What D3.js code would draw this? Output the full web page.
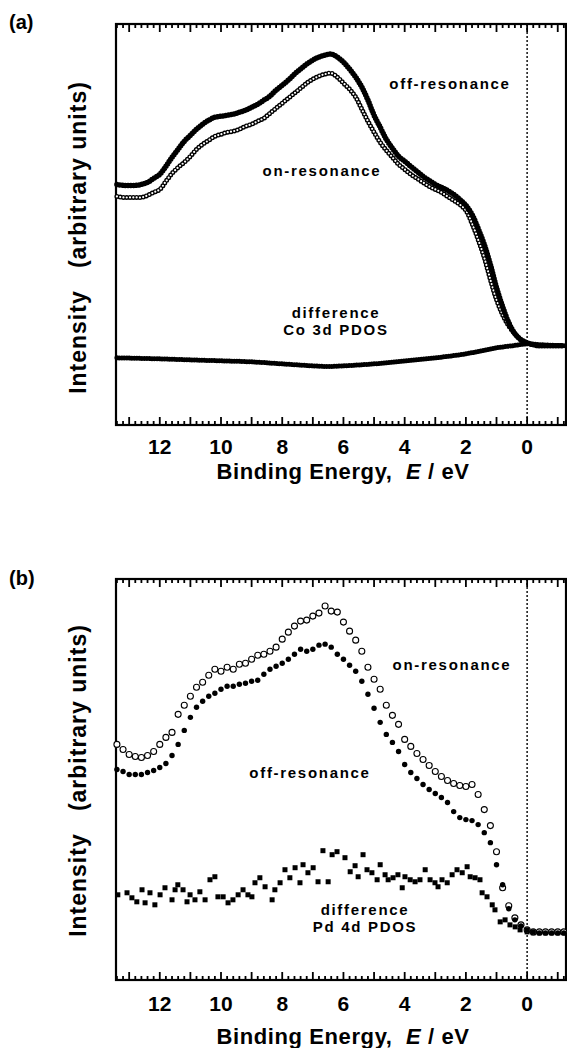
<!DOCTYPE html>
<html>
<head>
<meta charset="utf-8">
<script src="https://cdn.jsdelivr.net/npm/d3@7"></script>
<style>
  body { margin: 0; background: #fff; }
  svg { display: block; font-family: "Liberation Sans", Arial, Helvetica, sans-serif; font-weight: bold; }
  .pre { white-space: pre; }
</style>
</head>
<body>
<svg id="chart" width="567" height="1048"></svg>
<script>
// binding energy grid (eV) shared by the on/off resonance spectra
const energy = [13.4, 13.2, 13.0, 12.8, 12.6, 12.4, 12.2, 12.0, 11.8, 11.6, 11.4, 11.2, 11.0, 10.8, 10.6, 10.4, 10.2,
  10.0, 9.8, 9.6, 9.4, 9.2, 9.0, 8.8, 8.6, 8.4, 8.2, 8.0, 7.8, 7.6, 7.4, 7.2, 7.0, 6.8, 6.6, 6.4, 6.2,
  6.0, 5.8, 5.6, 5.4, 5.2, 5.0, 4.8, 4.6, 4.4, 4.2, 4.0, 3.8, 3.6, 3.4, 3.2, 3.0, 2.8, 2.6, 2.4, 2.2,
  2.0, 1.8, 1.6, 1.4, 1.2, 1.0, 0.8, 0.6, 0.4, 0.2, 0.0, -0.2, -0.4, -0.6, -0.8, -1.0, -1.2];

// (a) Co
const offResA = [60, 59.75, 59.75, 59.75, 60, 60.5, 61.5, 62.5,
  64.5, 66.75, 68.75, 70.75, 72.25, 73.75, 75, 76, 76.75,
  77, 77.25, 77.5, 78, 78.5, 79.25, 80, 81, 82, 83.5,
  84.75, 86, 87.5, 88.75, 90, 91, 91.75, 92.25, 92.5, 91.75,
  90.5, 88.75, 86.75, 84.25, 81, 77.25, 74.25, 71.25, 69, 67,
  65.75, 64.5, 63.25, 62, 61, 60, 59.25, 58.5, 57.5, 56.25,
  54.75, 52.5, 49, 45, 40, 34.25, 29.5, 25.5, 22.75, 21.25,
  20.5, 20, 19.75, 19.75, 19.75, 19.75, 19.75];
const onResA = [57, 56.75, 56.75, 56.75, 56.75, 57.25, 58, 58.75,
  60.75, 62.75, 64.25, 65.5, 67, 68.75, 70, 71, 72,
  72.5, 73, 73.25, 73.75, 74.5, 75, 75.75, 76.5, 77.75, 79,
  80.25, 81.5, 82.75, 84, 85.25, 86.25, 87, 87.5, 87.75, 86.75,
  85.25, 83.75, 81.75, 78.75, 75.75, 73, 70.5, 68.5, 66.75, 65,
  63.75, 62.5, 61.5, 60.5, 59.5, 58.75, 58, 57, 56, 55,
  53.5, 50.25, 46.25, 41.75, 36.25, 31.25, 27.5, 24.75, 22.75, 21.25,
  20.5];
const diffEnergyA = [13.4, 12, 11, 10, 9, 8, 7, 6.5, 6, 5, 4, 3, 2, 1.5, 1, 0.5, 0, -0.5, -1.27];
const diffA = [16.75, 16.5, 16.25, 16, 15.75, 15.25, 14.75, 14.6, 14.75, 15.25, 16, 16.75, 17.75, 18.5, 19.25, 19.75, 20.25, 20, 19.75];

// (b) Pd
const onResB = [58.75, 57.5, 56.25, 55.75, 55.5, 56, 57, 58.75,
  60.5, 61.75, 66.25, 68.5, 70.75, 73, 74.25, 76, 77.5,
  77, 78, 77.5, 78.75, 79, 80, 81, 81.25, 82, 83,
  85, 86.75, 88.25, 89.5, 89.75, 90.75, 91.5, 93.25, 92, 91.75,
  89.25, 87, 84.75, 82, 78, 75, 72.5, 68.5, 66, 63.75,
  60, 58.25, 56.5, 55, 53.5, 52, 50.75, 49.75, 49, 48.5,
  48.25, 48.75, 46.25, 42.5, 38.5, 32, 23, 18.5, 15.5, 13.75,
  12.5, 12, 12, 12, 12, 12, 12];
const offResB = [52.5, 52, 51.25, 51.25, 51.25, 51.75, 52.25, 53,
  54, 56, 58.75, 62.25, 65.5, 68, 69.5, 70.75, 71.5,
  72.5, 73.25, 73.25, 73.75, 74, 74.5, 74.75, 76.25, 77.5, 78.25,
  79, 80, 81.25, 82.5, 82, 82.5, 83.5, 83.75, 83, 81.25,
  80, 78.5, 77, 74.5, 71.25, 67.75, 64.25, 61.25, 59.25, 57,
  53.75, 51.75, 50.25, 48.75, 47.5, 46.5, 45.5, 44.25, 42, 40.5,
  40, 39.75, 38.75, 36.75, 34.25, 28.75, 23.75, 17.75, 15, 13.5,
  12.5, 12, 11.75, 11.75, 11.75, 11.75, 11.75];
const diffEnergyB = [13.37, 13.07, 12.91, 12.75, 12.58, 12.48, 12.32, 12.16, 11.99, 11.83, 11.6, 11.5, 11.41, 11.24, 11.11,
  11.01, 10.85, 10.69, 10.52, 10.36, 10.2, 10.1, 9.93, 9.77, 9.61, 9.44, 9.28, 9.12, 8.99, 8.89, 8.73, 8.56,
  8.33, 8.24, 8.07, 7.91, 7.75, 7.58, 7.42, 7.32, 7.16, 6.99, 6.83, 6.67, 6.5, 6.37, 6.21, 5.95, 5.78, 5.62,
  5.52, 5.36, 5.23, 5.07, 4.9, 4.8, 4.64, 4.54, 4.38, 4.22, 4.08, 3.99, 3.82, 3.66, 3.5, 3.33, 3.17, 3.01,
  2.91, 2.78, 2.61, 2.45, 2.29, 2.12, 1.96, 1.86, 1.7, 1.54, 1.47, 1.31, 1.14, 1.05, 0.88, 0.72, 0.56, 0.39,
  0.23, 0.0, -0.2, -0.4, -0.6, -0.8, -1.0, -1.2];
const diffB = [21.25, 21.75, 20.5, 19.5, 22.5, 19.25, 21.75, 18.75, 21.25, 23, 20, 22.5, 23.75, 22.5, 19.5,
  21.25, 20, 22, 20, 25, 25.75, 20.75, 20.75, 19.25, 20, 21.25, 22.5, 21.25, 20.75, 24.25, 25.5, 23.25,
  20, 22.5, 24.25, 27.5, 25.5, 28, 24.25, 28.75, 26.75, 28, 24.5, 32.25, 24.5, 31.25, 32, 30.5, 27, 28.5,
  25.75, 31.25, 27.5, 26.75, 25, 28.75, 26.25, 25, 25.5, 26.25, 23, 25.75, 25, 24.5, 25, 27.5, 25, 24.25,
  23.25, 25, 24.25, 26.25, 27.5, 26.75, 28.25, 25.75, 25.5, 25, 21.75, 20.75, 18.75, 17.5, 14.5, 15, 13.75, 13.25,
  12.5, 12, 11.75, 11.75, 11.75, 11.75, 11.75, 11.75];

const tickLabels = [12, 10, 8, 6, 4, 2, 0];

const svg = d3.select("#chart");
const x = d3.scaleLinear().domain([13.43, -1.27]).range([116, 566]);

function pairs(xs, ys) {
  return ys.map((v, i) => [xs[i], v]);
}

function drawFrame(g, y, cfg) {
  const top = y.range()[1], bottom = y.range()[0];
  // ticks every 1 eV (long) and every 0.2 eV (short), pointing into the frame
  const tickPos = d3.range(-6, 68).map(i => ({ v: i / 5, len: i % 5 === 0 ? 8 : 4 }));

  g.append("rect")
    .attr("x", x.range()[0]).attr("y", top)
    .attr("width", x.range()[1] - x.range()[0]).attr("height", bottom - top)
    .attr("fill", "none").attr("stroke", "#000").attr("stroke-width", 2.2);

  // ticks drawn as thin filled bars
  g.selectAll(".tkb").data(tickPos).enter().append("rect").attr("class", "tkb")
    .attr("x", d => x(d.v) - 0.9).attr("y", d => bottom - d.len)
    .attr("width", 1.8).attr("height", d => d.len).attr("fill", "#000");
  g.selectAll(".tkt").data(tickPos).enter().append("rect").attr("class", "tkt")
    .attr("x", d => x(d.v) - 0.9).attr("y", top)
    .attr("width", 1.8).attr("height", d => d.len).attr("fill", "#000");

  // Fermi level
  g.append("line")
    .attr("x1", x(0)).attr("x2", x(0)).attr("y1", top).attr("y2", bottom)
    .attr("stroke", "#000").attr("stroke-width", 1.4).attr("stroke-dasharray", "2,2");

  g.selectAll(".tl").data(tickLabels).enter().append("text")
    .attr("x", d => x(d)).attr("y", bottom + cfg.tickDy)
    .attr("text-anchor", "middle").attr("font-size", 21)
    .text(d => d);

  const t = g.append("text").attr("x", 343).attr("y", bottom + cfg.titleDy)
    .attr("text-anchor", "middle").attr("font-size", 22).attr("letter-spacing", 0.6);
  t.append("tspan").text("Binding Energy,  ").attr("class", "pre");
  t.append("tspan").text("E").attr("font-style", "italic");
  t.append("tspan").text(" / eV");

  g.append("text").attr("class", "pre")
    .attr("transform", `translate(86,${(top + bottom) / 2 + cfg.labelDy}) rotate(-90)`)
    .attr("text-anchor", "middle").attr("font-size", 23).attr("letter-spacing", 1)
    .text("Intensity   (arbitrary units)");

  g.append("text").attr("x", 9).attr("y", top + cfg.letterDy)
    .attr("font-size", 20).text(cfg.letter);
}

function note(g, lines, cx, baseY) {
  lines.forEach((s, i) => {
    g.append("text").attr("x", cx).attr("y", baseY + i * 17)
      .attr("text-anchor", "middle").attr("font-size", 15)
      .attr("letter-spacing", 1.7).text(s);
  });
}

// ---------- panel (a) ----------
const gA = svg.append("g");
const yA = d3.scaleLinear().domain([0, 100]).range([425, 24]);
const lineA = d3.line().x(d => x(d[0])).y(d => yA(d[1])).curve(d3.curveCatmullRom);

drawFrame(gA, yA, { tickDy: 29, titleDy: 54, letter: "(a)", letterDy: 5, labelDy: 13 });

const onA = pairs(energy, onResA);
gA.append("path").datum(onA).attr("d", lineA)
  .attr("fill", "none").attr("stroke", "#000").attr("stroke-width", 5)
  .attr("stroke-linecap", "round").attr("stroke-dasharray", "0 3.3");
gA.append("path").datum(onA).attr("d", lineA)
  .attr("fill", "none").attr("stroke", "#fff").attr("stroke-width", 2.2)
  .attr("stroke-linecap", "round").attr("stroke-dasharray", "0 3.3");

gA.append("path").datum(pairs(energy, offResA)).attr("d", lineA)
  .attr("fill", "none").attr("stroke", "#000").attr("stroke-width", 5.5)
  .attr("stroke-linecap", "round").attr("stroke-dasharray", "0 2.8");

gA.append("path").datum(pairs(diffEnergyA, diffA)).attr("d", lineA)
  .attr("fill", "none").attr("stroke", "#000").attr("stroke-width", 5)
  .attr("stroke-linecap", "round").attr("stroke-dasharray", "0 2.5");

note(gA, ["off-resonance"], 450, 89);
note(gA, ["on-resonance"], 322, 176);
note(gA, ["difference", "Co 3d PDOS"], 336, 318);

// ---------- panel (b) ----------
const gB = svg.append("g");
const yB = d3.scaleLinear().domain([0, 100]).range([980, 579]);

drawFrame(gB, yB, { tickDy: 31, titleDy: 64, letter: "(b)", letterDy: 6, labelDy: 1 });

gB.selectAll(".sq").data(pairs(diffEnergyB, diffB)).enter().append("rect")
  .attr("x", d => x(d[0]) - 2.5).attr("y", d => yB(d[1]) - 2.5)
  .attr("width", 5).attr("height", 5).attr("fill", "#000");

gB.selectAll(".op").data(pairs(energy, onResB)).enter().append("circle")
  .attr("cx", d => x(d[0])).attr("cy", d => yB(d[1])).attr("r", 3)
  .attr("fill", "#fff").attr("stroke", "#000").attr("stroke-width", 1.1);

gB.selectAll(".fp").data(pairs(energy, offResB)).enter().append("circle")
  .attr("cx", d => x(d[0])).attr("cy", d => yB(d[1])).attr("r", 2.7)
  .attr("fill", "#000");

note(gB, ["on-resonance"], 452, 670);
note(gB, ["off-resonance"], 310, 778);
note(gB, ["difference", "Pd 4d PDOS"], 365, 915);
</script>
</body>
</html>
